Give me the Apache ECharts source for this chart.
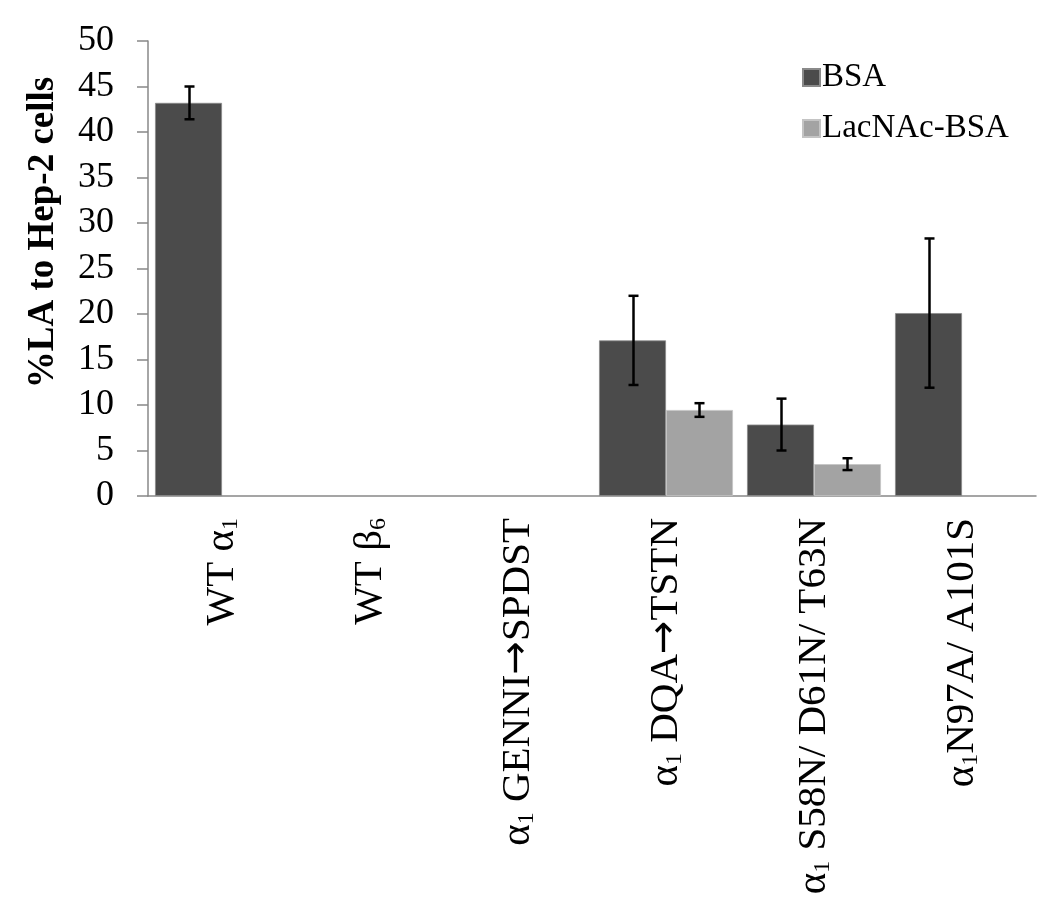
<!DOCTYPE html>
<html>
<head>
<meta charset="utf-8">
<script src="https://cdn.jsdelivr.net/npm/echarts@6/dist/echarts.min.js"></script>
<style>html,body{margin:0;padding:0;background:#fff;}#c{width:1050px;height:915px;}</style>
</head>
<body>
<div id="c"></div>
<script>
// ---- data ----
const categories = [
  'WT α{s|1}',
  'WT β{s|6}',
  'α{s|1} GENNI{ar|→}SPDST',
  'α{s|1} DQA{ar|→}TSTN',
  'α{s|1} S58N/ D61N/ T63N',
  'α{s|1}N97A/ A101S'
];
const seriesNames = ['BSA', 'LacNAc-BSA'];
const bsaValues = [43.2, null, null, 17.1, 7.85, 20.1];
const bsaErrors = [1.8, null, null, 4.9, 2.85, 8.2];
const lacValues = [null, null, null, 9.45, 3.5, null];
const lacErrors = [null, null, null, 0.75, 0.65, null];
const yTicks = { min: 0, max: 50, interval: 5 };
const yAxisTitle = '%LA to Hep-2 cells';

// ---- chart ----
const FONT = '"Liberation Serif", "Times New Roman", serif';
const COLORS = ['#4b4b4b', '#a3a3a3'];
const BAR_GAP_FRAC = 0.095;

function errorData(values, errors) {
  return values.map((v, i) => (v == null || errors[i] == null) ? null : [i, v - errors[i], v + errors[i]]);
}

function errorSeries(values, errors, side) {
  return {
    type: 'custom',
    silent: true,
    z: 10,
    data: errorData(values, errors).filter(d => d),
    renderItem: function (params, api) {
      const idx = api.value(0);
      const lo = api.coord([idx, api.value(1)]);
      const hi = api.coord([idx, api.value(2)]);
      const band = api.size([1, 0])[0];
      const barW = band * (1 - BAR_GAP_FRAC) / 2;
      const x = Math.round(lo[0] + side * barW / 2) + 0.5;
      const cap = 5;
      const style = { stroke: '#000', lineWidth: 2.5, fill: null };
      return {
        type: 'group',
        children: [
          { type: 'line', shape: { x1: x, y1: hi[1], x2: x, y2: lo[1] }, style: style },
          { type: 'line', shape: { x1: x - cap, y1: hi[1], x2: x + cap, y2: hi[1] }, style: style },
          { type: 'line', shape: { x1: x - cap, y1: lo[1], x2: x + cap, y2: lo[1] }, style: style }
        ]
      };
    }
  };
}

const chart = echarts.init(document.getElementById('c'), null, { renderer: 'canvas' });
chart.setOption({
  backgroundColor: '#fff',
  animation: false,
  textStyle: { fontFamily: FONT },
  grid: { left: 148, right: 14, top: 41, bottom: 419, containLabel: false },
  legend: {
    orient: 'vertical',
    left: 797,
    top: 56,
    itemWidth: 17,
    itemHeight: 17,
    itemGap: 18,
    icon: 'rect',
    data: seriesNames,
    textStyle: { fontFamily: FONT, fontSize: 33, color: '#000', padding: [0, 0, 0, -3] }
  },
  xAxis: {
    type: 'category',
    data: categories,
    axisLine: { lineStyle: { color: '#888', width: 1.5 } },
    axisTick: { show: false },
    axisLabel: {
      interval: 0,
      rotate: 90,
      margin: 22,
      color: '#000',
      fontFamily: FONT,
      fontSize: 41,
      rich: {
        s: { fontFamily: FONT, fontSize: 24, color: '#000', verticalAlign: 'bottom', padding: [14, 0, 0, 0] },
        ar: { fontFamily: '"DejaVu Sans"', fontSize: 40, color: '#000' }
      }
    }
  },
  yAxis: {
    type: 'value',
    min: yTicks.min,
    max: yTicks.max,
    interval: yTicks.interval,
    name: yAxisTitle,
    nameLocation: 'middle',
    nameGap: 86,
    nameRotate: 90,
    nameTextStyle: { fontFamily: FONT, fontSize: 37, fontWeight: 'bold', color: '#000', padding: [0, 0, 0, 72] },
    axisLine: { show: true, lineStyle: { color: '#888', width: 1.5 } },
    axisTick: { show: true, length: 11, lineStyle: { color: '#888', width: 1.5 } },
    splitLine: { show: false },
    axisLabel: { color: '#000', fontFamily: FONT, fontSize: 36, margin: 34 }
  },
  series: [
    {
      name: seriesNames[0], type: 'bar', data: bsaValues,
      barGap: '0%', barCategoryGap: (BAR_GAP_FRAC * 100) + '%',
      itemStyle: { color: COLORS[0], borderColor: '#8a8a8a', borderWidth: 0.8 }
    },
    {
      name: seriesNames[1], type: 'bar', data: lacValues,
      barGap: '0%', barCategoryGap: (BAR_GAP_FRAC * 100) + '%',
      itemStyle: { color: COLORS[1], borderColor: '#c4c4c4', borderWidth: 0.8 }
    },
    errorSeries(bsaValues, bsaErrors, -1),
    errorSeries(lacValues, lacErrors, 1)
  ]
});
</script>
</body>
</html>
